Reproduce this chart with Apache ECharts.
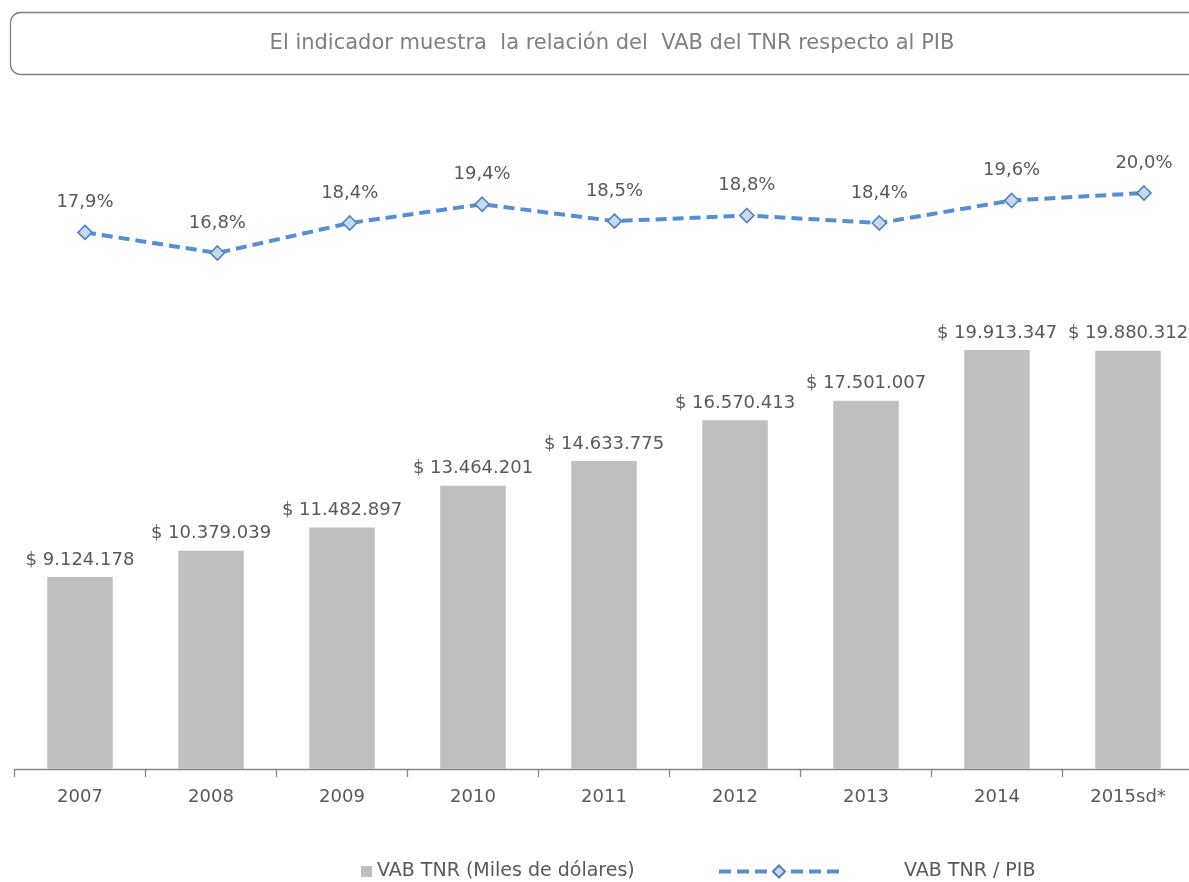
<!DOCTYPE html>
<html>
<head>
<meta charset="utf-8">
<script src="https://cdn.jsdelivr.net/npm/echarts@6/dist/echarts.min.js"></script>
<style>
  html, body { margin: 0; padding: 0; background: #fff; }
  #main { width: 1189px; height: 882px; }
</style>
</head>
<body>
<div id="main"></div>
<script>
// datos del grafico
var years = ['2007', '2008', '2009', '2010', '2011', '2012', '2013', '2014', '2015sd*'];
var vabTnr = [9124178, 10379039, 11482897, 13464201, 14633775, 16570413, 17501007, 19913347, 19880312];
var ratioPib = [17.9, 16.8, 18.4, 19.4, 18.5, 18.8, 18.4, 19.6, 20.0];

var barName = 'VAB TNR (Miles de dólares)';
var lineName = 'VAB TNR / PIB';
var font = '"DejaVu Sans", sans-serif';

function miles(v) {
  return '$ ' + String(v).replace(/\B(?=(\d{3})+(?!\d))/g, '.');
}

var chart = echarts.init(document.getElementById('main'));
chart.setOption({
  animation: false,
  textStyle: { fontFamily: font },
  graphic: [
    {
      type: 'rect',
      shape: { x: 10.5, y: 12.5, width: 1200, height: 62, r: 10 },
      style: { fill: '#fff', stroke: '#7f7f7f', lineWidth: 1.3 }
    },
    {
      type: 'text',
      x: 612, y: 44,
      style: {
        text: 'El indicador muestra  la relación del  VAB del TNR respecto al PIB',
        fill: '#7f7f7f', font: '21px ' + font,
        textAlign: 'center', textVerticalAlign: 'middle'
      }
    }
  ],
  legend: [
    {
      data: [barName],
      left: 361, top: 862, padding: 0,
      icon: 'rect', itemWidth: 11, itemHeight: 11,
      textStyle: { color: '#595959', fontSize: 19, fontFamily: font }
    },
    {
      data: [lineName],
      left: 717, top: 862, padding: 0,
      itemWidth: 120, itemHeight: 15,
      lineStyle: { width: 4, type: [12, 6] },
      textStyle: { color: '#595959', fontSize: 19, fontFamily: font, padding: [0, 0, 0, 60] }
    }
  ],
  grid: [
    { left: 14.5, width: 1179, top: 243, height: 526, outerBoundsMode: 'none' },
    { left: 18.8, width: 1191.4, top: 155.5, height: 150, outerBoundsMode: 'none' }
  ],
  xAxis: [
    {
      type: 'category', gridIndex: 0, data: years,
      axisLine: { lineStyle: { color: '#868686', width: 1.3 } },
      axisTick: { show: true, length: 8, lineStyle: { color: '#868686', width: 1.3 } },
      axisLabel: { color: '#595959', fontSize: 18, margin: 19, fontFamily: font }
    },
    {
      type: 'category', gridIndex: 1, data: years, show: false
    }
  ],
  yAxis: [
    { type: 'value', gridIndex: 0, min: 0, max: 25000000, show: false, splitLine: { show: false } },
    { type: 'value', gridIndex: 1, min: 14, max: 22, show: false, splitLine: { show: false } }
  ],
  series: [
    {
      name: barName, type: 'bar', xAxisIndex: 0, yAxisIndex: 0,
      data: vabTnr, barWidth: '50%',
      itemStyle: { color: '#bfbfbf' },
      label: {
        show: true, position: 'top', distance: 8,
        color: '#595959', fontSize: 18, fontFamily: font,
        formatter: function (p) { return miles(p.value); }
      }
    },
    {
      name: lineName, type: 'line', xAxisIndex: 1, yAxisIndex: 1,
      data: ratioPib,
      symbol: 'diamond', symbolSize: 14,
      lineStyle: { color: '#558ed5', width: 4, type: [11, 6] },
      itemStyle: { color: '#c6d9f1', borderColor: '#4f81bd', borderWidth: 1.6 },
      label: {
        show: true, position: 'top', distance: 13,
        color: '#595959', fontSize: 18, fontFamily: font,
        formatter: function (p) { return p.value.toFixed(1).replace('.', ',') + '%'; }
      }
    }
  ]
});
</script>
</body>
</html>
